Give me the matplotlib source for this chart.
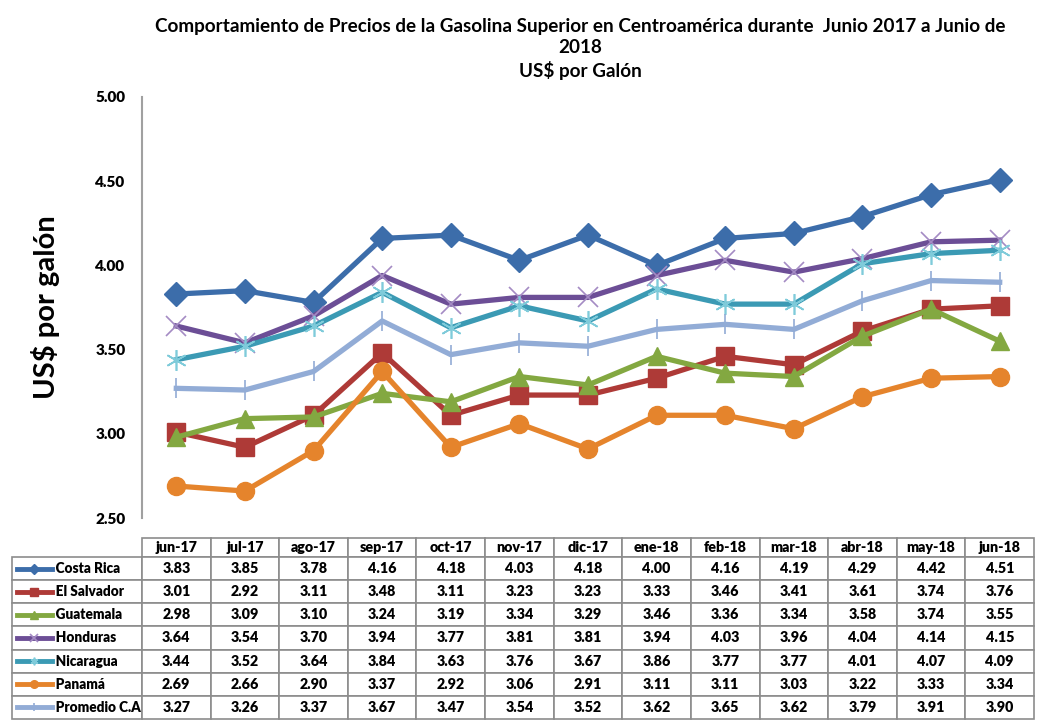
import matplotlib
matplotlib.use("Agg")
import matplotlib.pyplot as plt
from matplotlib.table import Table
from matplotlib.lines import Line2D

plt.rcParams['font.family'] = ['Lato', 'DejaVu Sans']

months = ["jun-17", "jul-17", "ago-17", "sep-17", "oct-17", "nov-17", "dic-17",
          "ene-18", "feb-18", "mar-18", "abr-18", "may-18", "jun-18"]
costa_rica  = [3.83, 3.85, 3.78, 4.16, 4.18, 4.03, 4.18, 4.00, 4.16, 4.19, 4.29, 4.42, 4.51]
el_salvador = [3.01, 2.92, 3.11, 3.48, 3.11, 3.23, 3.23, 3.33, 3.46, 3.41, 3.61, 3.74, 3.76]
guatemala   = [2.98, 3.09, 3.10, 3.24, 3.19, 3.34, 3.29, 3.46, 3.36, 3.34, 3.58, 3.74, 3.55]
honduras    = [3.64, 3.54, 3.70, 3.94, 3.77, 3.81, 3.81, 3.94, 4.03, 3.96, 4.04, 4.14, 4.15]
nicaragua   = [3.44, 3.52, 3.64, 3.84, 3.63, 3.76, 3.67, 3.86, 3.77, 3.77, 4.01, 4.07, 4.09]
panama      = [2.69, 2.66, 2.90, 3.37, 2.92, 3.06, 2.91, 3.11, 3.11, 3.03, 3.22, 3.33, 3.34]
promedio    = [3.27, 3.26, 3.37, 3.67, 3.47, 3.54, 3.52, 3.62, 3.65, 3.62, 3.79, 3.91, 3.90]

names = ["Costa Rica", "El Salvador", "Guatemala", "Honduras", "Nicaragua", "Panamá", "Promedio C.A"]
series = [costa_rica, el_salvador, guatemala, honduras, nicaragua, panama, promedio]
colors = ["#3C6DAA", "#AE3A37", "#83A841", "#6C4E96", "#3B9AB4", "#E5842C", "#92ACD6"]
markers = ["D", "s", "^", "x", (6, 2, 0), "o", "|"]
msizes = [12, 13, 13, 14, 15, 13, 14]
mews = [1, 1, 1, 1.2, 1.2, 1, 1.2]
medge = [None, None, None, "#A48BC4", "#7FCBDA", None, None]

title = ("Comportamiento de Precios de la Gasolina Superior en Centroamérica durante  Junio 2017 a Junio de\n"
         "2018\nUS$ por Galón")

W, H = 1045, 722
fig = plt.figure(figsize=(W / 100, H / 100), dpi=100)
ax_l, ax_r, ax_t, ax_b = 142, 1034, 97, 518
ax = fig.add_axes([ax_l / W, 1 - ax_b / H, (ax_r - ax_l) / W, (ax_b - ax_t) / H])

x = list(range(len(months)))
for s, name, c, m, ms, mew, me in zip(series, names, colors, markers, msizes, mews, medge):
    ax.plot(x, s, color=c, lw=3.8, marker=m, markersize=ms, markeredgewidth=mew,
            markeredgecolor=me or c, markerfacecolor=c, label=name, solid_joinstyle='round')

ax.set_xlim(-0.5, len(months) - 0.5)
ax.set_ylim(2.5, 5.0)
ax.set_yticks([2.5, 3.0, 3.5, 4.0, 4.5, 5.0])
ax.set_yticklabels([f"{v:.2f}" for v in [2.5, 3.0, 3.5, 4.0, 4.5, 5.0]],
                   fontsize=11, fontweight='heavy')
ax.tick_params(axis='y', length=0, pad=12)
ax.set_xticks([])
for sp in ["top", "right", "bottom"]:
    ax.spines[sp].set_visible(False)
ax.spines["left"].set_color("#A0A0A0")
ax.spines["left"].set_linewidth(1.5)

ax.set_ylabel("US$ por galón", fontsize=21, fontweight='bold', labelpad=25)

fig.text(580 / W, 1 - 18 / H, title, ha='center', va='top', fontsize=13.6,
         fontweight='bold', linespacing=1.3)

# data table (column 0 = legend labels)
tbl_l, tbl_r, tbl_t, tbl_b = 12, 1034, 538, 719
axw, axh = ax_r - ax_l, ax_b - ax_t
bbox = [(tbl_l - ax_l) / axw, (ax_b - tbl_b) / axh, (tbl_r - tbl_l) / axw, (tbl_b - tbl_t) / axh]
tb = Table(ax, bbox=bbox)
label_w = ax_l - tbl_l
col_w = (tbl_r - ax_l) / len(months)
head_h, row_h = 19, 23.2
edge = "#8C8C8C"
corner = tb.add_cell(0, 0, width=label_w, height=head_h, text="", edgecolor=edge)
corner.visible_edges = ""
for j, mth in enumerate(months):
    tb.add_cell(0, j + 1, width=col_w, height=head_h, text=mth, loc='center', edgecolor=edge)
for i, (name, s) in enumerate(zip(names, series)):
    tb.add_cell(i + 1, 0, width=label_w, height=row_h, text="             " + name,
                loc='left', edgecolor=edge)
    for j, v in enumerate(s):
        tb.add_cell(i + 1, j + 1, width=col_w, height=row_h, text=f"{v:.2f}",
                    loc='center', edgecolor=edge)
tb.auto_set_font_size(False)
tb.set_fontsize(10.3)
for (r, cidx), cell in tb.get_celld().items():
    cell.set_linewidth(1.2)
    cell.get_text().set_fontweight('heavy')
    cell.PAD = 0.02
    if cidx == 0:
        cell.get_text().set_fontsize(9.8)
ax.add_table(tb)

# legend keys inside row-label cells
fig.canvas.draw()
renderer = fig.canvas.get_renderer()
inv = fig.transFigure.inverted()
for i, (c, m, mew, me) in enumerate(zip(colors, markers, mews, medge)):
    bb = tb[i + 1, 0].get_window_extent(renderer)
    (x0, y0), (x1, y1) = inv.transform([[bb.x0, bb.y0], [bb.x1, bb.y1]])
    yc = (y0 + y1) / 2
    xs = x0 + 0.005
    xe = x0 + 0.038
    fig.add_artist(Line2D([xs, xe], [yc, yc], color=c, lw=3.5, transform=fig.transFigure))
    fig.add_artist(Line2D([(xs + xe) / 2], [yc], color=c, marker=m, markersize=5.5,
                          markeredgewidth=mew, markeredgecolor=me or c,
                          transform=fig.transFigure))

fig.savefig("out.png", dpi=100)
